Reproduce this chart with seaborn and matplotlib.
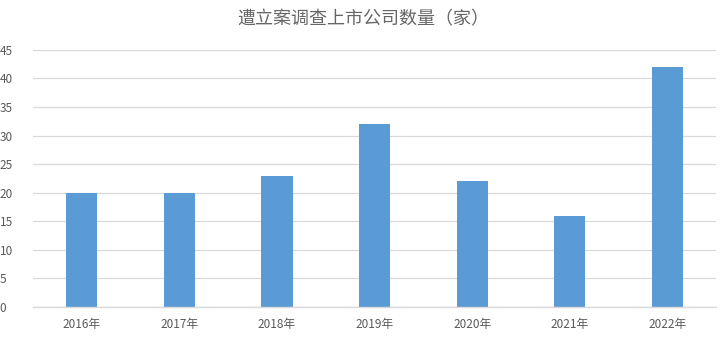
import matplotlib
matplotlib.use("Agg")
import matplotlib.pyplot as plt
import seaborn as sns
import pandas as pd

years = ["2016年", "2017年", "2018年", "2019年", "2020年", "2021年", "2022年"]
counts = [20, 20, 23, 32, 22, 16, 42]
yticks = [0, 5, 10, 15, 20, 25, 30, 35, 40, 45]
title = "遭立案调查上市公司数量（家）"

sns.set_theme(style="white")
plt.rcParams['font.family'] = ['Noto Sans CJK SC', 'DejaVu Sans']

df = pd.DataFrame({"year": years, "count": counts})

fig = plt.figure(figsize=(7.27, 3.42), dpi=100)
ax = fig.add_axes([0.0454, 0.1023, 0.9396, 0.7517])
sns.barplot(data=df, x="year", y="count", color="#5B9BD5", width=0.32,
            saturation=1, ax=ax)
for p in ax.patches:
    p.set_zorder(3)
    p.set_linewidth(0)
ax.set_ylim(0, 45)
ax.set_yticks(yticks)
ax.set_xlim(-0.5, len(years) - 0.5)
ax.yaxis.grid(True, color="#D9D9D9", linewidth=0.9, zorder=0)
ax.set_axisbelow(True)
for s in ["top", "right", "left"]:
    ax.spines[s].set_visible(False)
ax.spines["bottom"].set_color("#D9D9D9")
ax.spines["bottom"].set_linewidth(1.0)
ax.spines["bottom"].set_zorder(4)
ax.set_xlabel("")
ax.set_ylabel("")
ax.tick_params(axis="both", length=0, labelsize=8.5, colors="#595959", pad=8)
for lbl in ax.get_yticklabels():
    lbl.set_horizontalalignment("left")
ax.yaxis.set_tick_params(pad=24)
fig.text(0.5, 0.945, title, ha="center", va="center", fontsize=13,
         color="#666666")
fig.savefig("out.png", dpi=100)
